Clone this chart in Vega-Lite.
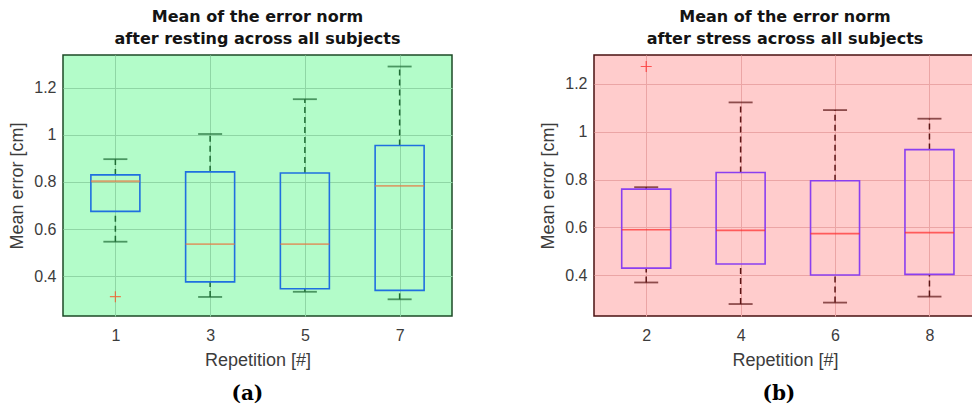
{
  "$schema": "https://vega.github.io/schema/vega-lite/v6.json",
  "background": "white",
  "padding": {"left": 8, "top": 8, "right": 0, "bottom": 0},
  "config": {
    "font": "Liberation Sans",
    "axis": {
      "labelFont": "Liberation Sans",
      "labelFontSize": 16,
      "labelColor": "#3c3c3c",
      "titleFont": "Liberation Sans",
      "titleFontSize": 18,
      "titleFontWeight": "normal",
      "titleColor": "#3c3c3c",
      "domain": false,
      "ticks": false,
      "gridOpacity": 1,
      "gridWidth": 1
    },
    "axisX": {"labelPadding": 11, "titlePadding": 8},
    "axisY": {"labelPadding": 7, "titlePadding": 7}
  },
  "datasets": {
    "resting": [
      {"rep": 1, "lo": 0.546, "q1": 0.675, "med": 0.803, "q3": 0.830, "hi": 0.897},
      {"rep": 3, "lo": 0.311, "q1": 0.375, "med": 0.536, "q3": 0.843, "hi": 1.004},
      {"rep": 5, "lo": 0.333, "q1": 0.346, "med": 0.536, "q3": 0.838, "hi": 1.152},
      {"rep": 7, "lo": 0.301, "q1": 0.339, "med": 0.783, "q3": 0.955, "hi": 1.291}
    ],
    "resting_out": [
      {"rep": 1, "value": 0.312}
    ],
    "stress": [
      {"rep": 2, "lo": 0.370, "q1": 0.430, "med": 0.590, "q3": 0.760, "hi": 0.768},
      {"rep": 4, "lo": 0.280, "q1": 0.447, "med": 0.5875, "q3": 0.829, "hi": 1.122},
      {"rep": 6, "lo": 0.286, "q1": 0.401, "med": 0.574, "q3": 0.795, "hi": 1.090},
      {"rep": 8, "lo": 0.311, "q1": 0.404, "med": 0.578, "q3": 0.925, "hi": 1.054}
    ],
    "stress_out": [
      {"rep": 2, "value": 1.272}
    ]
  },
  "spacing": 86,
  "hconcat": [
    {
      "title": {"text": "(a)", "orient": "bottom", "anchor": "middle", "dx": 17, "font": "DejaVu Serif", "fontSize": 20, "fontWeight": "bold", "color": "#000000", "offset": 14},
      "vconcat": [
        {
          "title": {"text": ["Mean of the error norm", "after resting across all subjects"], "font": "DejaVu Sans", "fontSize": 16, "fontWeight": "bold", "lineHeight": 22, "color": "#141414", "offset": 8},
          "width": 389,
          "height": 261,
          "view": {"fill": "#b3fcc9", "stroke": "#1c4a26", "strokeWidth": 1.5},
          "layer": [
            {
              "data": {"name": "resting"},
              "mark": {"type": "rule", "strokeDash": [6, 4], "color": "#1e6b34", "strokeWidth": 1.5},
              "encoding": {
                "x": {"field": "rep", "type": "quantitative", "scale": {"domain": [0, 8], "nice": false, "zero": false},
                      "axis": {"values": [1, 3, 5, 7], "title": "Repetition [#]", "grid": true, "gridColor": "#8fd6a5"}},
                "y": {"field": "q3", "type": "quantitative", "scale": {"domain": [0.23, 1.34], "nice": false, "zero": false},
                      "axis": {"values": [0.4, 0.6, 0.8, 1, 1.2], "format": "~g", "title": "Mean error [cm]", "grid": true, "gridColor": "#8fd6a5"}},
                "y2": {"field": "hi"}
              }
            },
            {
              "data": {"name": "resting"},
              "mark": {"type": "rule", "strokeDash": [6, 4], "color": "#1e6b34", "strokeWidth": 1.5},
              "encoding": {
                "x": {"field": "rep", "type": "quantitative", "scale": {"domain": [0, 8], "nice": false, "zero": false}},
                "y": {"field": "lo", "type": "quantitative", "scale": {"domain": [0.23, 1.34], "nice": false, "zero": false}},
                "y2": {"field": "q1"}
              }
            },
            {
              "data": {"name": "resting"},
              "mark": {"type": "tick", "orient": "horizontal", "size": 24, "thickness": 1.8, "color": "#1e6b34"},
              "encoding": {
                "x": {"field": "rep", "type": "quantitative", "scale": {"domain": [0, 8], "nice": false, "zero": false}},
                "y": {"field": "hi", "type": "quantitative", "scale": {"domain": [0.23, 1.34], "nice": false, "zero": false}}
              }
            },
            {
              "data": {"name": "resting"},
              "mark": {"type": "tick", "orient": "horizontal", "size": 24, "thickness": 1.8, "color": "#1e6b34"},
              "encoding": {
                "x": {"field": "rep", "type": "quantitative", "scale": {"domain": [0, 8], "nice": false, "zero": false}},
                "y": {"field": "lo", "type": "quantitative", "scale": {"domain": [0.23, 1.34], "nice": false, "zero": false}}
              }
            },
            {
              "data": {"name": "resting"},
              "mark": {"type": "bar", "width": 49, "fillOpacity": 0, "stroke": "#1f6fe0", "strokeWidth": 1.6},
              "encoding": {
                "x": {"field": "rep", "type": "quantitative", "scale": {"domain": [0, 8], "nice": false, "zero": false}},
                "y": {"field": "q1", "type": "quantitative", "scale": {"domain": [0.23, 1.34], "nice": false, "zero": false}},
                "y2": {"field": "q3"}
              }
            },
            {
              "data": {"name": "resting"},
              "mark": {"type": "tick", "orient": "horizontal", "size": 49, "thickness": 1.8, "color": "#e67a45"},
              "encoding": {
                "x": {"field": "rep", "type": "quantitative", "scale": {"domain": [0, 8], "nice": false, "zero": false}},
                "y": {"field": "med", "type": "quantitative", "scale": {"domain": [0.23, 1.34], "nice": false, "zero": false}}
              }
            },
            {
              "data": {"name": "resting_out"},
              "mark": {"type": "point", "shape": "M-1,0H1M0,-1V1", "size": 121, "filled": false, "stroke": "#ff4a1a", "strokeWidth": 1.2},
              "encoding": {
                "x": {"field": "rep", "type": "quantitative", "scale": {"domain": [0, 8], "nice": false, "zero": false}},
                "y": {"field": "value", "type": "quantitative", "scale": {"domain": [0.23, 1.34], "nice": false, "zero": false}}
              }
            }
          ]
        }
      ]
    },
    {
      "title": {"text": "(b)", "orient": "bottom", "anchor": "middle", "dx": 21, "font": "DejaVu Serif", "fontSize": 20, "fontWeight": "bold", "color": "#000000", "offset": 14},
      "vconcat": [
        {
          "title": {"text": ["Mean of the error norm", "after stress across all subjects"], "font": "DejaVu Sans", "fontSize": 16, "fontWeight": "bold", "lineHeight": 22, "color": "#141414", "offset": 8},
          "width": 382,
          "height": 261,
          "view": {"fill": "#ffcccc", "stroke": "#4a1010", "strokeWidth": 1.5},
          "layer": [
            {
              "data": {"name": "stress"},
              "mark": {"type": "rule", "strokeDash": [6, 4], "color": "#5c1515", "strokeWidth": 1.5},
              "encoding": {
                "x": {"field": "rep", "type": "quantitative", "scale": {"domain": [1, 8.88], "nice": false, "zero": false},
                      "axis": {"values": [2, 4, 6, 8], "title": "Repetition [#]", "grid": true, "gridColor": "#eba5a5"}},
                "y": {"field": "q3", "type": "quantitative", "scale": {"domain": [0.23, 1.32], "nice": false, "zero": false},
                      "axis": {"values": [0.4, 0.6, 0.8, 1, 1.2], "format": "~g", "title": "Mean error [cm]", "grid": true, "gridColor": "#eba5a5"}},
                "y2": {"field": "hi"}
              }
            },
            {
              "data": {"name": "stress"},
              "mark": {"type": "rule", "strokeDash": [6, 4], "color": "#5c1515", "strokeWidth": 1.5},
              "encoding": {
                "x": {"field": "rep", "type": "quantitative", "scale": {"domain": [1, 8.88], "nice": false, "zero": false}},
                "y": {"field": "lo", "type": "quantitative", "scale": {"domain": [0.23, 1.32], "nice": false, "zero": false}},
                "y2": {"field": "q1"}
              }
            },
            {
              "data": {"name": "stress"},
              "mark": {"type": "tick", "orient": "horizontal", "size": 24, "thickness": 1.8, "color": "#5c1515"},
              "encoding": {
                "x": {"field": "rep", "type": "quantitative", "scale": {"domain": [1, 8.88], "nice": false, "zero": false}},
                "y": {"field": "hi", "type": "quantitative", "scale": {"domain": [0.23, 1.32], "nice": false, "zero": false}}
              }
            },
            {
              "data": {"name": "stress"},
              "mark": {"type": "tick", "orient": "horizontal", "size": 24, "thickness": 1.8, "color": "#5c1515"},
              "encoding": {
                "x": {"field": "rep", "type": "quantitative", "scale": {"domain": [1, 8.88], "nice": false, "zero": false}},
                "y": {"field": "lo", "type": "quantitative", "scale": {"domain": [0.23, 1.32], "nice": false, "zero": false}}
              }
            },
            {
              "data": {"name": "stress"},
              "mark": {"type": "bar", "width": 49, "fillOpacity": 0, "stroke": "#8a3ff0", "strokeWidth": 1.6},
              "encoding": {
                "x": {"field": "rep", "type": "quantitative", "scale": {"domain": [1, 8.88], "nice": false, "zero": false}},
                "y": {"field": "q1", "type": "quantitative", "scale": {"domain": [0.23, 1.32], "nice": false, "zero": false}},
                "y2": {"field": "q3"}
              }
            },
            {
              "data": {"name": "stress"},
              "mark": {"type": "tick", "orient": "horizontal", "size": 49, "thickness": 1.6, "color": "#ff2a2a"},
              "encoding": {
                "x": {"field": "rep", "type": "quantitative", "scale": {"domain": [1, 8.88], "nice": false, "zero": false}},
                "y": {"field": "med", "type": "quantitative", "scale": {"domain": [0.23, 1.32], "nice": false, "zero": false}}
              }
            },
            {
              "data": {"name": "stress_out"},
              "mark": {"type": "point", "shape": "M-1,0H1M0,-1V1", "size": 121, "filled": false, "stroke": "#ff2020", "strokeWidth": 1.2},
              "encoding": {
                "x": {"field": "rep", "type": "quantitative", "scale": {"domain": [1, 8.88], "nice": false, "zero": false}},
                "y": {"field": "value", "type": "quantitative", "scale": {"domain": [0.23, 1.32], "nice": false, "zero": false}}
              }
            }
          ]
        }
      ]
    }
  ]
}
